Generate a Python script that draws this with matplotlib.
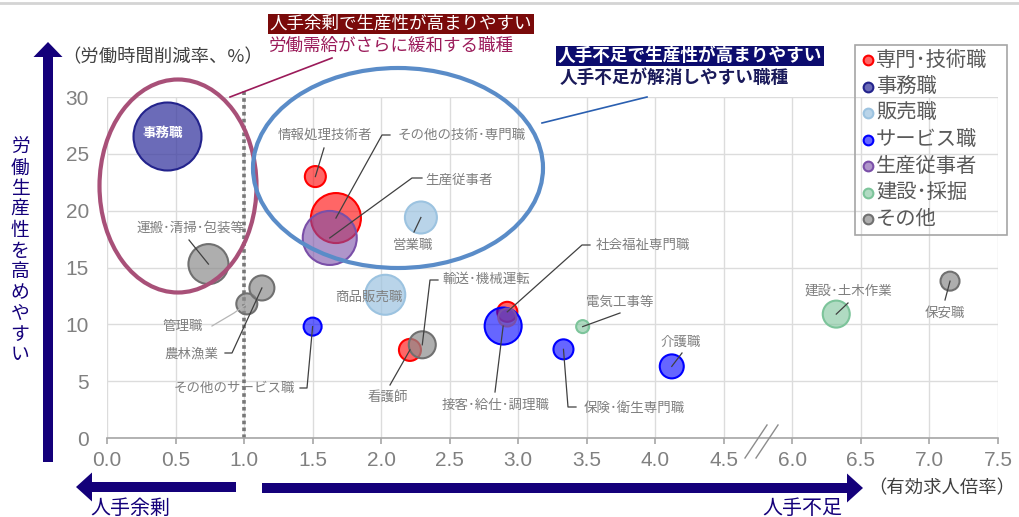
import matplotlib
matplotlib.use('Agg')
import matplotlib.pyplot as plt
import matplotlib.transforms as mtransforms
from matplotlib.patches import Ellipse, FancyArrow, Rectangle
from matplotlib.lines import Line2D

plt.rcParams['font.family'] = ['Noto Sans CJK JP', 'DejaVu Sans']

W, H = 1020, 517

# series (groups)
groups = ['専門･技術職', '事務職', '販売職', 'サービス職', '生産従事者', '建設･採掘', 'その他']
edge_colors = ['#ff0000', '#23238c', '#9cc3e0', '#0000ff', '#7a4fa8', '#7cc49a', '#707070']
face_colors = ['#ff0000', '#3a3aa0', '#9cc3e0', '#0000ff', '#7a4fa8', '#7cc49a', '#8c8c8c']
face_alpha = [0.6, 0.75, 0.7, 0.6, 0.6, 0.6, 0.7]

# occupations
jobs = ['情報処理技術者', 'その他の技術･専門職', '看護師', '社会福祉専門職',
        '事務職',
        '営業職', '商品販売職',
        'その他のサービス職', '接客･給仕･調理職', '保険･衛生専門職', '介護職',
        '生産従事者(他)', '生産従事者',
        '電気工事等', '建設･土木作業',
        '運搬･清掃･包装等', '管理職', '農林漁業', '輸送･機械運転', '保安職']
job_group = [0, 0, 0, 0,
             1,
             2, 2,
             3, 3, 3, 3,
             4, 4,
             5, 5,
             6, 6, 6, 6, 6]
ratio = [1.52, 1.67, 2.21, 2.92,
         0.44,
         2.29, 2.03,
         1.50, 2.89, 3.33, 4.12,
         2.92, 1.625,
         3.47, 6.32,
         0.74, 1.02, 1.13, 2.30, 7.15]
cut = [23.0, 19.35, 7.75, 11.1,
       26.6,
       19.4, 12.6,
       9.8, 9.85, 7.8, 6.3,
       10.6, 17.6,
       9.8, 10.9,
       15.3, 11.8, 13.2, 8.2, 13.8]
bubble = [21, 50, 22, 20,
          68,
          32, 40,
          18, 37, 20, 24,
          18, 54,
          13, 27,
          40, 21, 25, 27, 19]

x_ticks = [0.0, 0.5, 1.0, 1.5, 2.0, 2.5, 3.0, 3.5, 4.0, 4.5, 6.0, 6.5, 7.0, 7.5]
y_ticks = [0, 5, 10, 15, 20, 25, 30]


def pos(r):
    # broken axis: values above 5 are shifted left by 1.0
    return r if r <= 5 else r - 1.0


fig = plt.figure(figsize=(W / 100, H / 100), dpi=100)
PX = mtransforms.Affine2D().scale(1, -1).translate(0, H)

ax = fig.add_axes([107 / W, (H - 438) / H, (998 - 107) / W, (438 - 97) / H])
ax.set_xlim(0, 6.5)
ax.set_ylim(0, 30)
ax.set_xticks([pos(v) for v in x_ticks])
ax.set_xticklabels([f'{v:.1f}' for v in x_ticks])
ax.set_yticks(y_ticks)
ax.grid(True, color='#dcdcdc', lw=1)
ax.set_axisbelow(True)
for s in ['top', 'right', 'left']:
    ax.spines[s].set_visible(False)
ax.spines['bottom'].set_color('#a6a6a6')
ax.spines['bottom'].set_linewidth(1.2)
ax.tick_params(axis='x', colors='#a6a6a6', labelcolor='#808080', length=4, width=1.2,
               labelsize=15, pad=5)
ax.tick_params(axis='y', length=0, labelcolor='#808080', labelsize=15, pad=13)
for t in ax.get_xticklabels() + ax.get_yticklabels():
    t.set_fontfamily('Liberation Sans')

# dotted reference line at ratio 1.0
ax.plot([1.0, 1.0], [0, 30.6], color='#777777', lw=2.6, ls=(0, (1, 0.9)),
        clip_on=False, zorder=1.5)

# bubbles, series order
for g in range(len(groups)):
    idx = [i for i in range(len(jobs)) if job_group[i] == g]
    xs = [pos(ratio[i]) for i in idx]
    ys = [cut[i] for i in idx]
    ss = [(bubble[i] * 0.72) ** 2 for i in idx]
    fc = matplotlib.colors.to_rgba(face_colors[g], face_alpha[g])
    ax.scatter(xs, ys, s=ss, facecolor=fc, edgecolor=edge_colors[g], linewidth=1.5,
               zorder=3, clip_on=False)


def center_px(name):
    i = jobs.index(name)
    dx, dy = ax.transData.transform((pos(ratio[i]), cut[i]))
    return dx, H - dy


def ptext(x, y, s, **kw):
    fig.text(x / W, 1 - y / H, s, **kw)


# labels: text centre and leader points (pixels), leader ends at bubble centre
labels = {
    '運搬･清掃･包装等': ((190, 228), [(189, 240)]),
    '管理職': ((183, 326), [(212, 326), (234, 313)]),
    '農林漁業': ((191, 354), [(225, 353), (232, 353)]),
    'その他のサービス職': ((234, 388), [(300, 388), (307, 388)]),
    '情報処理技術者': ((325, 135), [(324, 148)]),
    'その他の技術･専門職': ((462, 135), [(390, 135), (382, 135)]),
    '生産従事者': ((459, 180), [(422, 178), (412, 178)]),
    '営業職': ((413, 245), [(414, 232)]),
    '商品販売職': ((369, 297), []),
    '輸送･機械運転': ((486, 279), [(438, 280), (430, 280)]),
    '看護師': ((388, 397), [(390, 385)]),
    '接客･給仕･調理職': ((496, 405), [(495, 392)]),
    '保険･衛生専門職': ((634, 408), [(576, 407), (568, 407)]),
    '社会福祉専門職': ((643, 245), [(590, 245), (582, 245)]),
    '電気工事等': ((620, 302), [(620, 313)]),
    '介護職': ((681, 342), [(682, 353)]),
    '建設･土木作業': ((848, 291), [(848, 303)]),
    '保安職': ((945, 313), [(945, 300)]),
}
for name, (tp, pts) in labels.items():
    ptext(tp[0], tp[1], name, ha='center', va='center', fontsize=9.7, color='#7f7f7f',
          zorder=6)
    if pts:
        cx, cy = center_px(name)
        xs = [p[0] for p in pts] + [cx]
        ys = [p[1] for p in pts] + [cy]
        col = '#b5b5b5' if name == '管理職' else '#404040'
        fig.add_artist(Line2D(xs, ys, transform=PX, color=col, lw=0.9, zorder=5))

cx, cy = center_px('事務職')
ptext(cx - 5, cy - 3, '事務職', ha='center', va='center', fontsize=9.7, color='white',
      fontweight='bold', zorder=6)

# group ellipses and their pointer lines
fig.add_artist(Ellipse((178, 186), 157, 213, transform=PX, fill=False,
                       edgecolor='#a85078', lw=3, zorder=4))
fig.add_artist(Ellipse((398, 168), 290, 200, transform=PX, fill=False,
                       edgecolor='#5a8cc8', lw=3, zorder=4))
fig.add_artist(Line2D([230, 332], [97, 58], transform=PX, color='#9b1b5a', lw=1.2))
fig.add_artist(Line2D([542, 647], [123, 97], transform=PX, color='#2a5fb0', lw=1.2))

# headline texts
ptext(401, 24, '人手余剰で生産性が高まりやすい', ha='center', va='center', fontsize=12.6,
      color='white', bbox=dict(boxstyle='square,pad=0.08', fc='#7a0a0a', ec='none'))
ptext(391, 46, '労働需給がさらに緩和する職種', ha='center', va='center', fontsize=12.6,
      color='#9b1b5a')
ptext(690, 56, '人手不足で生産性が高まりやすい', ha='center', va='center', fontsize=12.7,
      color='white', fontweight='bold',
      bbox=dict(boxstyle='square,pad=0.08', fc='#0c0c6e', ec='none'))
ptext(674, 78, '人手不足が解消しやすい職種', ha='center', va='center', fontsize=12.7,
      color='#1a1a5a', fontweight='bold')

# axis captions
ptext(62, 57, '（労働時間削減率、%）', ha='left', va='center', fontsize=13.2, color='#404040')
ptext(868, 488, '（有効求人倍率）', ha='left', va='center', fontsize=13.2, color='#404040')
vlabel = '労働生産性を高めやすい'
for k, ch in enumerate(vlabel):
    ptext(20, 147 + 20.8 * k, ch, ha='center', va='center', fontsize=13.5, color='#14007a')
ptext(130, 508, '人手余剰', ha='center', va='center', fontsize=14.4, color='#14007a')
ptext(802, 508, '人手不足', ha='center', va='center', fontsize=14.4, color='#14007a')

# arrows
navy = '#14007a'
fig.add_artist(FancyArrow(48, 462, 0, -420, width=10, head_width=29, head_length=15,
                          length_includes_head=True, transform=PX, color=navy, lw=0))
fig.add_artist(FancyArrow(236, 487, -160, 0, width=10, head_width=29, head_length=16,
                          length_includes_head=True, transform=PX, color=navy, lw=0))
fig.add_artist(FancyArrow(262, 488, 601, 0, width=10, head_width=29, head_length=16,
                          length_includes_head=True, transform=PX, color=navy, lw=0))

# axis break mark
fig.add_artist(Line2D([745, 767], [458, 425], transform=PX, color='#8c8c8c', lw=1))
fig.add_artist(Line2D([756, 778], [458, 425], transform=PX, color='#8c8c8c', lw=1))

# top border line
fig.add_artist(Line2D([0, W], [3, 3], transform=PX, color='#d4d4d4', lw=2))

# legend
fig.add_artist(Rectangle((855, 45), 152, 190, transform=PX, fill=False,
                         edgecolor='#a6a6a6', lw=1.2))
for g, name in enumerate(groups):
    y = 60 + 26.5 * g
    fc = matplotlib.colors.to_rgba(face_colors[g], face_alpha[g])
    fig.add_artist(Line2D([868], [y], transform=PX, marker='o', markersize=7,
                          markerfacecolor=fc, markeredgecolor=edge_colors[g],
                          markeredgewidth=1.5, ls='none'))
    ptext(876, y, name, ha='left', va='center', fontsize=14.6, color='#595959')

fig.savefig('out.png', dpi=100)
